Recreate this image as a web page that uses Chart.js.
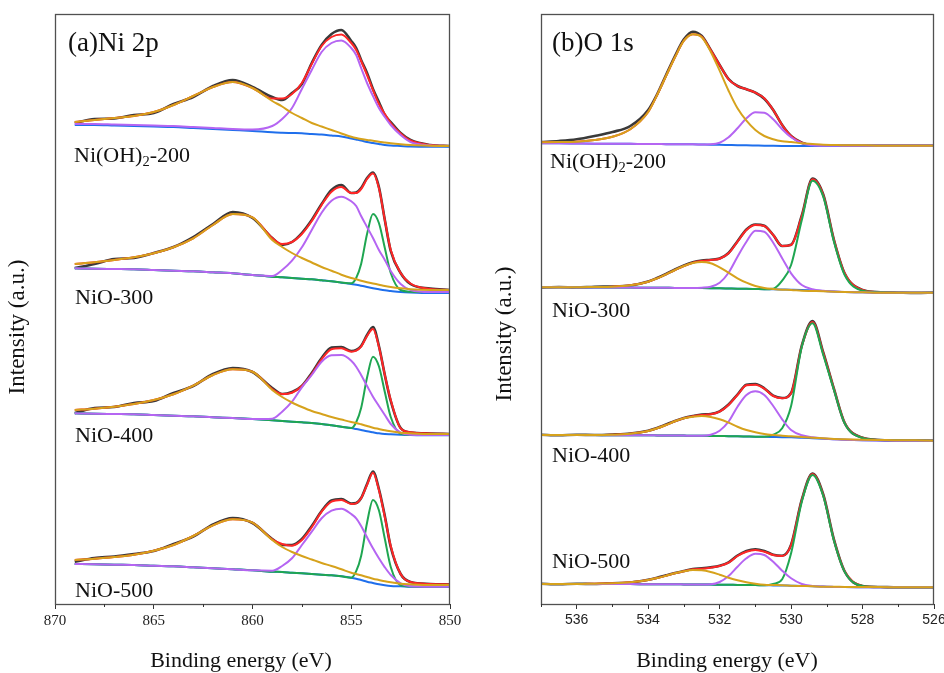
<!DOCTYPE html>
<html><head><meta charset="utf-8">
<script src="https://cdn.jsdelivr.net/npm/chart.js@4.4.0/dist/chart.umd.min.js"></script>
<style>
html,body{margin:0;padding:0;background:#fff;}
#wrap{position:relative;width:944px;height:673px;overflow:hidden;}
#c1{position:absolute;left:0;top:0;}
#c2{position:absolute;left:470px;top:0;}
</style></head><body>
<div id="wrap"><canvas id="c1" width="470" height="673"></canvas><canvas id="c2" width="474" height="673"></canvas></div>
<script>
// ---------- Ni 2p (binding energy, eV) ----------
const NI_BE = [869,868,867,866,865,864,863,862,861,860,859,858.5,858,857.5,857,856.5,856,855.5,855,854.75,854.5,854.2,853.9,853.6,853.3,853,852.5,852,851,850];
const NI_TICKS = [870,865,860,855,850];
const NI_MINOR = [867.5,862.5,857.5,852.5];

// Ni(OH)2-200
const NI200_RAW = [481,485,485.5,489,491,500,507,518,524,517,507,504,511,520,541,559,570,574,563,556,544,531,515,502,489,482,471,464,459,458];
const NI200_FIT = [482,484,486,488,492,499,508,517,522,516,505.5,505.5,510,521,540,558,567,569.5,561,554,543,529,514,500,490,481,470.5,463.5,459,458];
const NI200_BG  = [479,479,478.5,478,477.5,477,476,475,474,473,471.7,471.3,471,470.7,470,469.5,468.5,467.5,465.5,464.5,463.5,462,461,460,459,458.5,458,457.5,457.3,457.3];
const NI200_SAT = [482,484,486,488,492,499,508,517,522,516,503,497.5,491,486,481,477.5,474,470.5,467.3,466,465,464,463.3,462.3,461.5,460.7,459.7,459,458.3,458];
const NI200_P1  = [480,480,479.5,479,478.5,478,477,476,475,474.5,478,485,496,515,534,552,561,563.5,556,549,536,521,508,496,487,479,469,462,458.5,458];
// NiO-300
const NI300_RAW = [336,340,345,346,351,357,367,380,392,386,366,359,362,371,384,400,414,419,411,411.5,416,426,431.5,417,384,353,331,320,315.5,314];
const NI300_FIT = [340,341.7,344,346.7,350.7,356.7,365.7,379,390,386.7,366,360,362,370,383,399,412.3,417,411,411,415,425,430.5,416,384,354,331,320.5,315,314];
const NI300_BG  = [335.7,335.3,335,334.7,334,333.3,332.7,331.7,330.7,329,327.3,326.7,326,325.3,324.7,323.7,322.7,321.3,320,319.3,318.3,317,315.8,314.7,313.7,313,312,311.5,311,311];
const NI300_SAT = [340,341.7,344,346.7,350.7,356.7,365.7,379,390,386.7,364,357,351,346,341.5,337,333.3,329.3,326,324.7,323.3,321.8,320.5,319.3,318,317,315.7,314.7,314,314];
const NI300_P1  = [335.7,335.3,335,334.7,334,333.3,332.7,331.7,330.7,329,328,334,343.3,356.7,374,391.3,403.3,407.3,402.7,398,388,377,366,354,344,333,320,314,312,312];
const NI300_P2  = [335.7,335.3,335,334.7,334,333.3,332.7,331.7,330.7,329,327.3,326.7,326,325.3,324.7,323.7,322.7,321.5,320.7,326,340,370,390,381,356,331,314,312.3,312,312];
// NiO-400
const NI400_RAW = [191,196,197,201,203,211,218,230,236,232,216,210,212,218,231,246,256.5,257,253,254,258,269,277,258,229,203,176,171.5,170.5,170];
const NI400_FIT = [194,195.3,197.3,200,204,209.7,218.3,229,234.7,232.3,215,210,211.3,218,230,244.7,254.7,255.7,252.3,253.3,257.3,268,275,257.3,229,204,175.7,171.7,170.5,170];
const NI400_BG  = [190.7,190.3,190,189.7,189,188.3,187.7,186.7,186,185,183.7,183,182.3,181.7,181,180,178.7,177.3,176,175,174,172.7,171.7,170.7,170,169.7,169.3,169,168.7,168.7];
const NI400_SAT = [194,195.3,197.3,200,204,209.7,218.3,229,234.7,232.3,214,207,201.5,197,193,190,187,184.5,182,181,179.7,178,176.3,175,173.7,172.7,171.3,170.7,170,170];
const NI400_P1  = [190.7,190.3,190,189.7,189,188.3,187.7,186.7,186,185,185.3,192.3,202.3,216.7,229,242.3,248.7,249,243.3,237.3,229,218,207.3,198,189,180,171.3,169.3,169,169];
const NI400_P2  = [190.7,190.3,190,189.7,189,188.3,187.7,186.7,186,185,183.7,183,182.3,181.7,181,180,178.7,177.3,176,181.8,196,226.4,247.3,237.7,212,187,170.3,169.2,169,169];
// NiO-500
const NI500_RAW = [42.3,46,47.5,50,53,60,67.5,79.5,86,81,65,59,59,65,78,93,103.5,105,100.5,101,106,120,132.5,115,88,57,30,22,20,19.5];
const NI500_FIT = [44,45.3,47,49.3,53.3,59,68,78.7,84.7,81.3,64.7,60,58.3,64,76.7,92.3,102.3,104,100,100.7,105.7,119,131.3,114,87,58,30,22,20,19.5];
const NI500_BG  = [40,39.7,39.3,39,38.3,37.7,36.7,35.7,34.7,33.7,32.3,32,31.3,30.7,30,29.3,28.7,27.7,26.3,25.3,24,22.3,21,19.7,18.7,18,17.7,17.3,17,17];
const NI500_SAT = [44,45.3,47,49.3,53.3,59,68,78.7,84.7,81.3,64,57,52,48,44.5,41,38,34.7,31.3,30,28.7,27,25.3,24,22.7,21.7,20.3,19.7,19,19];
const NI500_P1  = [40,39.7,39.3,39,38.3,37.7,36.7,35.7,34.7,33.7,33.3,38,45.7,59,72.3,85.7,93.3,95.3,90,85.7,78,66.7,55.7,45.7,36.7,29,20.7,17.7,17.3,17.3];
const NI500_P2  = [40,39.7,39.3,39,38.3,37.7,36.7,35.7,34.7,33.7,32.3,32,31.3,30.7,30,29.3,28.7,27.7,26.3,32.8,48,81.3,104,93.7,65.2,37,18.7,17.5,17.3,17.3];

// ---------- O 1s ----------
const O_BE = [537,536.5,536,535.5,535,534.5,534,533.75,533.5,533.25,533,532.75,532.5,532.25,532,531.75,531.5,531.25,531,530.75,530.5,530.25,530,529.7,529.4,529.1,528.8,528.5,528,527.5,527,526.5,526];
const O_TICKS = [536,534,532,530,528,526];
const O_MINOR = [537,535,533,531,529,527];

// Ni(OH)2-200
const O200_RAW = [462,463,464.7,468,472,478,494,509.7,529,548,564.7,572.3,568,554,539,525,518,514.7,511.3,505.3,494,479,468,461.3,458.7,458.3,458.3,458.3,458.3,458.3,458.3,458.3,458.3];
const O200_FIT = [461.7,462,462.3,464,467.3,474.7,492,509,528,546.7,563.3,569.7,567.3,554,539,524.7,518,514.7,511.3,505.7,494,479,468,461.3,458.7,458.3,458.3,458.3,458.3,458.3,458.3,458.3,458.3];
const O200_BG  = [460.7,460.7,460.5,460.3,460.3,460.2,460,460,459.8,459.8,459.7,459.7,459.5,459.3,459.2,459,458.8,458.7,458.5,458.3,458.2,458.1,458,457.9,457.9,458,458.1,458.2,458.3,458.3,458.3,458.3,458.3];
const O200_SAT = [461.7,462,462.3,464,467.3,474.7,492,509,528,546.7,563.3,569.7,566.7,552.3,533.3,513.3,495.7,483.3,474,468,464.7,462.7,462,460.7,460,459.3,459,458.7,458.7,458.3,458.3,458.3,458.3];
const O200_P1  = [460.7,460.7,460.5,460.3,460.3,460.2,460,460,459.8,459.8,459.7,459.7,459.5,459.7,461.3,466.7,475.7,485.7,491.7,491.3,484.7,474.7,466.7,460.7,458.7,458.3,458.3,458.3,458.3,458.3,458.3,458.3,458.3];
// NiO-300
const O300_RAW = [316.5,317,316.5,317.3,317.5,318.5,322.5,326,330,334.5,338.5,341.7,343.5,344.3,345.5,351,362.7,374.5,379.5,378.3,369,358,359.3,388.5,425.5,409.5,364,330.5,314,311.7,311.3,311,311.3];
const O300_FIT = [316.7,316.7,316.7,317,317.3,318.7,322.3,325.7,329.7,334,338,341.3,343,344,345.3,350.7,362.3,374,379,378,369,358,359,388,424.7,409,364,330.7,314,311.7,311.3,311.3,311.3];
const O300_BG  = [316.7,316.7,316.6,316.5,316.5,316.4,316.3,316.3,316.2,316.1,316.1,316,315.9,315.8,315.7,315.5,315.3,315.2,315,314.8,314.7,314.5,314.3,314,313.5,313,312.5,312,311.7,311.3,311.3,311.3,311.3];
const O300_SAT = [316.7,316.7,316.7,317,317.3,318.7,322.3,325.7,329.7,334,338,341,342,340.7,336.7,331.3,325.7,321.3,318,316,315,314.3,314,313.3,313,312.7,312.3,312,311.7,311.3,311.3,311.3,311.3];
const O300_P1  = [316.7,316.7,316.6,316.5,316.5,316.4,316.3,316.3,316.2,316.1,316.1,316,316.3,317.3,321.3,331.3,347.3,362.3,373.3,372.3,361.3,345.7,330.7,319,314.7,313.3,312.5,312,311.7,311.3,311.3,311.3,311.3];
const O300_P2  = [316.7,316.7,316.6,316.5,316.5,316.4,316.3,316.3,316.2,316.1,316.1,316,315.9,315.8,315.7,315.5,315.3,315.2,315,314.8,315.3,323.3,339,384,423.3,407.3,362.3,329,313.3,311.7,311.3,311.3,311.3];
// NiO-400
const O400_RAW = [169.3,168.7,169.3,169,169.5,170.5,173.3,176,179.5,183,186,188,189.5,190,192.7,199.5,209.5,219.3,220,215.7,208.3,206,211,258.5,283,251.5,215,181,166.3,164,163.5,163.5,163.3];
const O400_FIT = [169,169,169,169,169.3,170.3,173,175.7,179,182.7,185.7,187.7,189,189.7,192.3,199,209,218.7,219.3,215.3,208,205.7,210.7,258,282,251,215,181.3,166.3,164,163.7,163.5,163.3];
const O400_BG  = [169,169,168.9,168.9,168.8,168.7,168.7,168.6,168.5,168.5,168.4,168.3,168.3,168.1,168,167.8,167.7,167.5,167.3,167.2,167,166.8,166.7,166.3,165.8,165.3,164.8,164.3,163.8,163.5,163.3,163.3,163.3];
const O400_SAT = [169,169,169,169,169.3,170.3,173,175.7,179,182.7,185.7,187.3,188,187,184.7,181.3,177.3,174,171.7,170,169,168.3,167.7,167,166.3,165.7,165,164.7,164.3,164,163.7,163.7,163.3];
const O400_P1  = [169,169,168.9,168.9,168.8,168.7,168.7,168.6,168.5,168.5,168.4,168.3,168.3,169.3,173.3,182.3,197.3,209,212.7,209,198,184.7,174,168.7,166.7,165.5,164.8,164.3,163.8,163.5,163.3,163.3,163.3];
const O400_P2  = [169,169,168.9,168.9,168.8,168.7,168.7,168.6,168.5,168.5,168.4,168.3,168.3,168.1,168,167.8,167.7,167.5,167.3,167.2,169.3,175.7,198,257.3,280.7,249,214,180.7,166,164,163.7,163.5,163.3];
// NiO-500
const O500_RAW = [20.3,19.7,20.3,20,20.8,21.5,24.3,26.3,28.7,31,33,35,35.7,36.7,38.3,41.7,48.5,53,54.7,53,49.3,48.3,59.3,104.3,130.5,109.5,64.3,32.5,18,17,16.7,16.7,16.7];
const O500_FIT = [20,20,20,20.3,20.7,21.7,24,26,28.3,30.7,32.7,34.7,35.3,36.3,38,41.3,48,52.3,54,52.3,49,48,59,104,130,109,64,32.7,18,17,16.7,16.7,16.7];
const O500_BG  = [20,20,20,19.9,19.9,19.9,19.8,19.8,19.7,19.7,19.6,19.5,19.5,19.4,19.3,19.2,19.1,19,18.9,18.7,18.6,18.5,18.3,18.1,17.7,17.4,17.1,16.9,16.8,16.7,16.7,16.7,16.7];
const O500_SAT = [20,20,20,20.3,20.7,21.7,24,26,28.3,30.7,32.7,34,33.7,32,29.3,26.3,23.7,21.7,20.3,19.3,19,18.7,18.3,18,17.7,17.3,17.3,17,17,17,16.7,16.7,16.7];
const O500_P1  = [20,20,20,19.9,19.9,19.9,19.8,19.8,19.7,19.7,19.6,19.5,19.5,19.7,22,28,37.3,45.7,50.3,49,42.3,33.3,25.7,20,18,17.4,17.1,16.9,16.8,16.7,16.7,16.7,16.7];
const O500_P2  = [20,20,20,19.9,19.9,19.9,19.8,19.8,19.7,19.7,19.6,19.5,19.5,19.4,19.3,19.2,19.1,19,18.9,18.7,20,24.7,50.7,102.3,129,108,63.3,32.3,18,17,16.7,16.7,16.7];

// ---------- styling ----------
const COL = {raw:'#3a3a3a', fit:'#ff2626', bg:'#1f6fec', sat:'#d6a21c', p1:'#b565f2', p2:'#1fa651'};
const ORDER = {sat:1, p1:2, p2:3, bg:4, fit:5, raw:6};
const SERIF = '"Liberation Serif","Times New Roman",serif';
const SANS = '"Liberation Sans",Arial,sans-serif';

function line(xs, ys, kind){
  return {
    data: xs.map((x,i)=>({x:x, y:ys[i]})),
    borderColor: COL[kind], backgroundColor: COL[kind],
    borderWidth: kind==='raw' ? 2.6 : 2,
    pointRadius: 0, fill:false, cubicInterpolationMode:'monotone',
    order: ORDER[kind]
  };
}
function spectrum(xs, set){
  const out=[];
  for (const k of ['raw','fit','bg','p2','p1','sat']) if (set[k]) out.push(line(xs, set[k], k));
  return out;
}

const niDatasets = [
  ...spectrum(NI_BE,{raw:NI200_RAW,fit:NI200_FIT,bg:NI200_BG,sat:NI200_SAT,p1:NI200_P1}),
  ...spectrum(NI_BE,{raw:NI300_RAW,fit:NI300_FIT,bg:NI300_BG,sat:NI300_SAT,p1:NI300_P1,p2:NI300_P2}),
  ...spectrum(NI_BE,{raw:NI400_RAW,fit:NI400_FIT,bg:NI400_BG,sat:NI400_SAT,p1:NI400_P1,p2:NI400_P2}),
  ...spectrum(NI_BE,{raw:NI500_RAW,fit:NI500_FIT,bg:NI500_BG,sat:NI500_SAT,p1:NI500_P1,p2:NI500_P2})
];
const oDatasets = [
  ...spectrum(O_BE,{raw:O200_RAW,fit:O200_FIT,bg:O200_BG,sat:O200_SAT,p1:O200_P1}),
  ...spectrum(O_BE,{raw:O300_RAW,fit:O300_FIT,bg:O300_BG,sat:O300_SAT,p1:O300_P1,p2:O300_P2}),
  ...spectrum(O_BE,{raw:O400_RAW,fit:O400_FIT,bg:O400_BG,sat:O400_SAT,p1:O400_P1,p2:O400_P2}),
  ...spectrum(O_BE,{raw:O500_RAW,fit:O500_FIT,bg:O500_BG,sat:O500_SAT,p1:O500_P1,p2:O500_P2})
];

function richText(ctx, x, y, parts, size){
  ctx.textBaseline='alphabetic'; ctx.textAlign='left';
  let cx=x;
  for (const [t, sub] of parts){
    const fs = sub ? size*0.66 : size;
    ctx.font = fs+'px '+SERIF;
    ctx.fillText(t, cx, y + (sub ? size*0.2 : 0));
    cx += ctx.measureText(t).width;
  }
}

function decor(cfg){
  return {
    id:'decor',
    afterDraw(chart){
      const ctx=chart.ctx, a=chart.chartArea, xs=chart.scales.x;
      ctx.save();
      ctx.strokeStyle='#505050'; ctx.lineWidth=1.3;
      ctx.strokeRect(a.left+0.5, a.top+0.5, a.right-a.left-1, a.bottom-a.top);
      ctx.strokeStyle='#333'; ctx.lineWidth=1;
      for (const v of cfg.minor){
        const px=Math.round(xs.getPixelForValue(v))+0.5;
        ctx.beginPath(); ctx.moveTo(px,a.bottom); ctx.lineTo(px,a.bottom+3); ctx.stroke();
      }
      ctx.fillStyle='#111';
      richText(ctx, cfg.title[1], cfg.title[2], [[cfg.title[0],0]], 27);
      for (const L of cfg.labels) richText(ctx, L.x, L.y, L.parts, 22);
      ctx.font='22px '+SERIF; ctx.textAlign='center'; ctx.textBaseline='alphabetic';
      ctx.fillText('Binding energy (eV)', cfg.xt[0], cfg.xt[1]);
      ctx.save();
      ctx.translate(cfg.yt[0], cfg.yt[1]); ctx.rotate(-Math.PI/2);
      ctx.textBaseline='middle'; ctx.font='23px '+SERIF;
      ctx.fillText('Intensity (a.u.)', 0, 0);
      ctx.restore();
      ctx.restore();
    }
  };
}

function makeChart(id, datasets, xr, ticks, tickFont, yWidth, padRight, cfg){
  return new Chart(document.getElementById(id), {
    type:'line',
    data:{datasets},
    options:{
      responsive:false, animation:false, devicePixelRatio:1,
      layout:{padding:{left:0,right:padRight,top:14,bottom:0}},
      plugins:{legend:{display:false}, tooltip:{enabled:false}},
      scales:{
        x:{type:'linear', min:xr[0], max:xr[1], reverse:true,
           afterFit(s){ s.height=69; s.paddingLeft=0; s.paddingRight=0; },
           afterBuildTicks(s){ s.ticks = ticks.map(v=>({value:v})); },
           grid:{display:true, drawOnChartArea:false, drawTicks:true, tickLength:5, color:'#333', tickWidth:1},
           border:{display:false},
           ticks:{font:tickFont, color:'#222', padding:3, maxRotation:0, autoSkip:false,
                  callback:(v)=>String(v)}},
        y:{type:'linear', min:0, max:590,
           afterFit(s){ s.width=yWidth; s.paddingTop=0; s.paddingBottom=0; },
           grid:{display:false}, border:{display:false},
           ticks:{display:false}}
      }
    },
    plugins:[decor(cfg)]
  });
}

makeChart('c1', niDatasets, [850,870], NI_TICKS, {family:SERIF, size:15}, 55, 20, {
  minor: NI_MINOR,
  title: ['(a)Ni 2p', 68, 51],
  labels: [
    {x:74, y:162, parts:[['Ni(OH)',0],['2',1],['-200',0]]},
    {x:75, y:304, parts:[['NiO-300',0]]},
    {x:75, y:442, parts:[['NiO-400',0]]},
    {x:75, y:597, parts:[['NiO-500',0]]}
  ],
  xt:[241,667], yt:[18,327]
});
makeChart('c2', oDatasets, [526,537], O_TICKS, {family:SANS, size:14}, 71, 10, {
  minor: O_MINOR,
  title: ['(b)O 1s', 82, 51],
  labels: [
    {x:80, y:168, parts:[['Ni(OH)',0],['2',1],['-200',0]]},
    {x:82, y:317, parts:[['NiO-300',0]]},
    {x:82, y:462, parts:[['NiO-400',0]]},
    {x:82, y:568, parts:[['NiO-500',0]]}
  ],
  xt:[257,667], yt:[35,334]
});
</script>
</body></html>
